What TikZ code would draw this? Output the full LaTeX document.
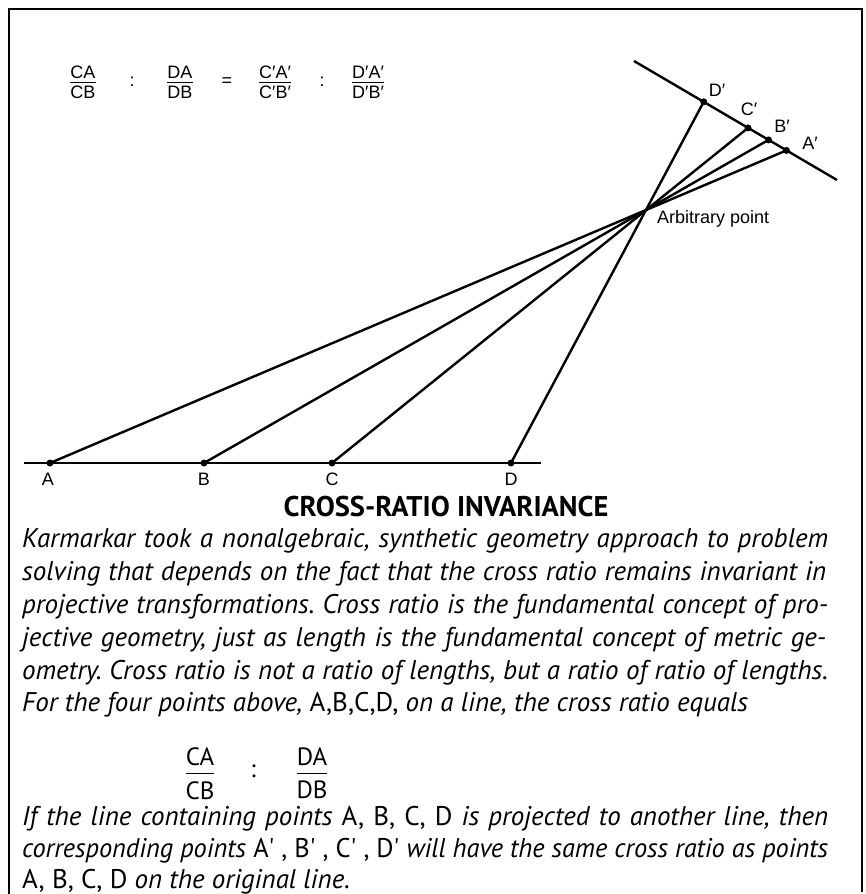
\documentclass[tikz,border=0pt]{standalone}
\usepackage{graphicx}
\usepackage{fontspec}
\setmainfont{PT Sans}
\newfontfamily\lblfont{Liberation Sans}
\newfontfamily\bodyfont{PT Sans}
\newcommand\crfrac[7]{%
  \node[#6, anchor=south] (#1-n) at (#2,#3-#7) {#4};
  \node[#6, anchor=north] (#1-d) at (#2,#3+#7+1) {#5};
  \draw[fracbar] ([yshift=-#7pt]#1-n.south west) -- ([yshift=-#7pt]#1-n.south east);
}
\newcommand\jline[2]{\setbox0=\hbox{#2}\ifdim\wd0>#1\relax\resizebox{#1}{\height}{#2}\else\makebox[#1][s]{#2}\fi}
\begin{document}
\frenchspacing
\begin{tikzpicture}[x=1pt,y=-1pt,
  frame/.style={line width=2pt},
  groundline/.style={line width=2.8pt},
  ray/.style={line width=2.4pt},
  dot/.style={circle,fill,inner sep=0pt,minimum size=7pt},
  lbl/.style={font=\lblfont\fontsize{18}{18}\selectfont, inner sep=0pt},
  flbl/.style={font=\lblfont\fontsize{18}{18}\selectfont, inner sep=0pt},
  fbody/.style={font=\bodyfont\fontsize{25}{25}\selectfont, inner sep=0pt},
  fracbar/.style={line width=1pt},
  bodyline/.style={anchor=base west, inner sep=0pt, font=\bodyfont\itshape\fontsize{27}{27}\selectfont},
  titlestyle/.style={inner sep=0pt, font=\bodyfont\bfseries\fontsize{28.5}{28.5}\selectfont},
]
\useasboundingbox (0,0) rectangle (866,894);
% frame
\draw[frame] (9,894) -- (9,9) -- (862,9) -- (862,892);
% points
\coordinate (A) at (50,463);
\coordinate (B) at (204,463);
\coordinate (C) at (332,463);
\coordinate (D) at (511,463);
\coordinate (L1) at (24,463);
\coordinate (L2) at (541,463);
\coordinate (T1) at (634,61);
\coordinate (T2) at (837,180);
\coordinate (P) at (646,210);
\coordinate (Ap) at (786.4,150.4);
\coordinate (Bp) at (768.5,139.9);
\coordinate (Cp) at (748.0,127.9);
\coordinate (Dp) at (703.7,101.8);
% lines
\draw[groundline] (L1) -- (L2);
\draw[ray] (T1) -- (T2);
\draw[ray] (A) -- (Ap);
\draw[ray] (B) -- (Bp);
\draw[ray] (C) -- (Cp);
\draw[ray] (D) -- (Dp);
\foreach \p in {A,B,C,D,Ap,Bp,Cp,Dp} \node[dot] (\p-dot) at (\p) {};
% labels
\node[lbl] (lA) at (48,479) {A};
\node[lbl] (lB) at (204,479) {B};
\node[lbl] (lC) at (332,479) {C};
\node[lbl] (lD) at (511,479) {D};
\node[lbl] (lDp) at (717,90) {D′};
\node[lbl] (lCp) at (749,109) {C′};
\node[lbl] (lBp) at (782,126) {B′};
\node[lbl] (lAp) at (810,143) {A′};
\node[lbl, anchor=west] (arb) at (657,219) {Arbitrary point};
% top formula
\crfrac{f1}{83}{82}{CA}{CB}{flbl}{3}
\node[flbl] (c1) at (132,82) {:};
\crfrac{f2}{180}{82}{DA}{DB}{flbl}{3}
\node[flbl] (eq) at (227,82) {=};
\crfrac{f3}{275}{82}{C′A′}{C′B′}{flbl}{3}
\node[flbl] (c2) at (322,82) {:};
\crfrac{f4}{368}{82}{D′A′}{D′B′}{flbl}{3}
% title
\node[titlestyle] (title) at (446,507) {CROSS-RATIO INVARIANCE};
% body text
\node[bodyline] (t1) at (22,547) {\jline{806pt}{Karmarkar took a nonalgebraic, synthetic geometry approach to problem}};
\node[bodyline] (t2) at (22,580) {\jline{804pt}{solving that depends on the fact that the cross ratio remains invariant in}};
\node[bodyline] (t3) at (22,613) {\jline{806pt}{projective transformations. Cross ratio is the fundamental concept of pro-}};
\node[bodyline] (t4) at (22,646) {\jline{804pt}{jective geometry, just as length is the fundamental concept of metric ge-}};
\node[bodyline] (t5) at (22,679) {\jline{806pt}{ometry. Cross ratio is not a ratio of lengths, but a ratio of ratio of lengths.}};
\node[bodyline] (t6) at (22,711) {For the four points above, {\upshape A,B,C,D,} on a line, the cross ratio equals};
\crfrac{f5}{200}{773}{CA}{CB}{fbody}{7}
\node[fbody] (c3) at (253,771) {:};
\crfrac{f6}{312}{773}{DA}{DB}{fbody}{7}
\node[bodyline] (t7) at (22,825) {\jline{806pt}{If the line containing points {\upshape A, B, C, D} is projected to another line, then}};
\node[bodyline] (t8) at (22,857) {\jline{806pt}{corresponding points {\upshape A\textquotesingle\ , B\textquotesingle\ , C\textquotesingle\ , D\textquotesingle} will have the same cross ratio as points}};
\node[bodyline] (t9) at (22,888) {{\upshape A, B, C, D} on the original line.};
\end{tikzpicture}
\end{document}
